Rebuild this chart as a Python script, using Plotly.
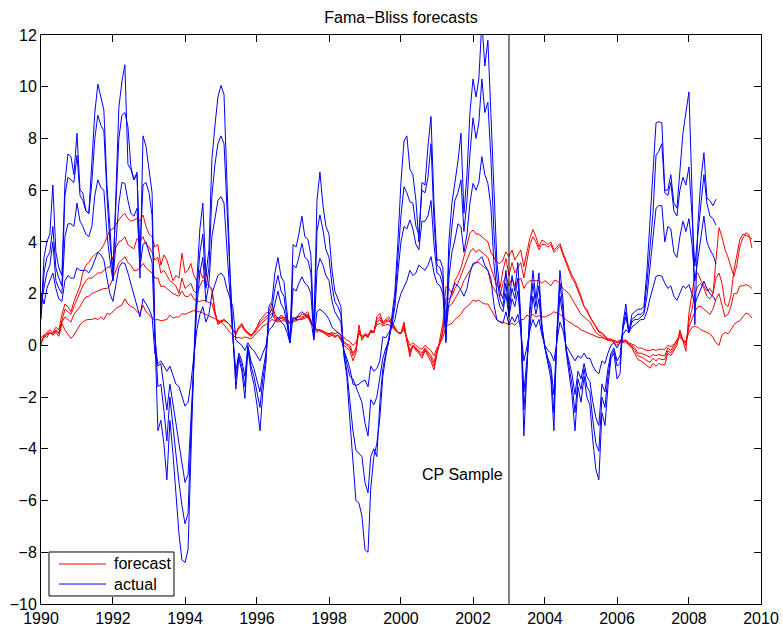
import pandas as pd
import plotly.graph_objects as go

# Monthly excess returns (actual) and Fama-Bliss forecasts, 2- to 5-year bonds.
actual_start = "1990-01-01"
forecast_start = "1990-01-01"

actual_2y = [
    2.0, 1.6, 2.2, 2.5, 2.8, 2.2, 1.8, 1.7, 2.5, 2.7, 2.6, 2.6,
    3.0, 2.9, 2.9, 2.9, 2.8, 3.0, 3.3, 3.6, 3.5, 3.3, 2.6, 2.0,
    1.7, 2.4, 3.0, 3.2, 3.17, 2.8, 2.4, 2.0, 1.6, 1.1, 1.8, 1.6,
    1.4, 1.1, -0.3, -0.7, -0.6, -0.8, -1.0, -0.8, -1.2, -1.5, -1.6, -2.0,
    -2.35, -2.2, -1.5, -0.4, 0.6, 1.2, 1.5, 0.9, 1.2, 2.0, 2.4, 2.7,
    2.8, 2.65, 2.2, 1.8, 1.5, 0.2, 0.1, 0.0, -0.2, 0.1, -0.1, -0.2,
    -0.4, -0.6, -0.3, 0.0, 0.6, 0.7, 0.9, 1.1, 0.9, 0.8, 0.5, 0.1,
    1.1, 1.0, 1.2, 1.3, 1.2, 1.1, 1.0, 0.2, 1.3, 1.4, 1.3, 1.2,
    1.0, 0.7, 0.6, 0.5, 0.4, -0.2, -0.5, -0.9, -1.5, -1.55, -1.5, -1.4,
    -1.34, -1.6, -0.8, -1.0, -0.9, -0.6, 0.33, 0.3, 0.5, 0.7, 1.0, 1.6,
    2.0, 2.27, 2.5, 2.9, 2.7, 2.8, 3.1, 3.0, 2.9, 3.1, 3.43, 2.8,
    2.4, 2.3, 2.0, 0.5, 1.6, 2.1, 2.4, 2.3, 2.14, 1.9, 2.2, 2.8,
    3.17, 3.2, 3.3, 3.43, 3.1, 2.9, 2.6, 1.6, 0.98, 0.9, 0.85, 1.3,
    0.8, 1.1, 0.9, 1.2, 0.6, -0.6, -0.1, 0.6, 1.0, 0.7, 1.0, 0.4,
    0.0, -0.2, -0.3, -0.6, 0.2, 0.9, 0.6, 0.0, -0.2, -0.4, -0.6, -0.4,
    -0.5, -0.3, -0.5, -0.5, -0.8, -1.0, -1.1, -0.6, -0.7, -0.3, 0.0, 0.1,
    -0.1, 0.1, 0.4, 0.6, 0.5, 0.7, 0.8, 0.9, 1.0, 1.0, 1.3, 1.8,
    2.2, 2.67, 2.7, 2.68, 2.4, 2.2, 2.3, 1.9, 1.74, 2.0, 2.3, 2.2,
    2.35, 2.0, 1.6, 1.9, 2.2, 2.48, 2.2, 2.0, 1.9, 1.7,
]

actual_3y = [
    1.6, 2.2, 2.8, 3.1, 4.0, 2.5, 2.2, 2.0, 4.2, 4.7, 4.7, 4.6,
    5.5, 4.8, 4.6, 4.3, 4.2, 4.6, 5.8, 6.4, 6.1, 6.0, 4.3, 3.3,
    2.5, 4.0, 5.5, 6.3, 6.26, 5.6, 5.1, 5.0, 5.3, 3.0, 3.9, 4.0,
    3.6, 3.2, 0.3, -0.8, -0.7, -1.6, -2.5, -1.5, -2.2, -3.0, -3.8, -4.6,
    -5.3, -5.0, -2.8, -0.3, 1.5, 2.8, 3.4, 1.7, 2.4, 4.2, 5.0, 5.6,
    5.75, 5.5, 3.8, 1.8, 0.3, -1.0, -0.3, -0.6, -1.2, 0.0, -0.6, -0.9,
    -1.3, -1.8, -1.0, -0.3, 1.0, 1.1, 1.6, 2.1, 1.6, 1.4, 0.8, 0.1,
    2.2, 2.1, 2.4, 2.65, 2.4, 2.3, 2.0, 0.3, 2.9, 3.36, 3.1, 2.7,
    2.5, 1.7, 1.3, 1.1, 0.9, -0.2, -0.7, -1.2, -1.3, -1.6, -1.9, -2.2,
    -3.0, -3.5, -2.1, -2.3, -2.0, -1.3, -0.5, -0.1, 0.2, 0.8, 1.5, 2.8,
    4.0, 4.6, 4.5, 4.85, 4.5, 3.9, 3.7, 4.8, 4.8, 5.0, 5.6, 3.9,
    2.8, 2.7, 2.3, 0.3, 2.6, 3.6, 4.07, 4.7, 4.6, 3.6, 4.3, 5.5,
    6.26, 6.0, 6.3, 7.3, 6.6, 6.26, 5.4, 3.17, 2.0, 1.5, 1.3, 2.0,
    1.1, 1.8, 1.5, 2.1, 0.8, -1.8, -0.6, 0.9, 1.9, 1.2, 1.8, 0.6,
    -0.1, -0.5, -0.8, -1.9, 0.3, 1.9, 1.1, -0.1, -0.6, -1.1, -1.9, -1.0,
    -1.3, -0.7, -1.2, -1.4, -2.2, -2.8, -3.1, -1.5, -1.8, -0.9, -0.3, -0.1,
    -0.6, -0.4, 0.6, 1.1, 0.5, 0.9, 1.0, 1.0, 1.1, 1.2, 1.9, 3.0,
    4.0, 5.3, 5.4, 5.4, 4.0, 4.6, 4.5, 3.6, 3.4, 4.2, 4.8, 4.4,
    4.9, 3.9, 2.5, 3.4, 4.3, 5.0, 4.0, 3.7, 3.5, 3.15,
]

actual_4y = [
    1.0, 2.8, 3.4, 3.6, 4.6, 3.0, 2.6, 2.3, 5.8, 6.5, 6.4, 6.3,
    7.35, 5.8, 5.6, 5.2, 5.1, 6.3, 8.0, 8.9, 8.5, 8.3, 5.8, 4.0,
    2.9, 5.5, 8.0, 8.9, 9.0, 8.45, 6.9, 6.4, 6.6, 3.6, 6.2, 6.3,
    5.9, 5.0, 0.6, -1.6, -1.5, -2.5, -3.7, -2.0, -3.0, -4.2, -5.3, -6.2,
    -6.9, -6.5, -3.5, -0.4, 2.0, 3.6, 4.3, 2.2, 3.0, 5.8, 7.0, 7.8,
    8.1, 7.8, 5.3, 2.4, 0.4, -1.3, -0.4, -0.8, -1.6, -0.1, -0.8, -1.2,
    -1.8, -2.4, -1.3, -0.5, 1.2, 1.4, 2.2, 2.7, 2.1, 1.9, 1.0, 0.1,
    3.1, 3.0, 3.4, 3.94, 3.4, 3.3, 2.8, 0.4, 4.4, 5.04, 4.46, 3.7,
    3.4, 2.3, 1.7, 1.5, 1.2, -0.3, -1.0, -2.1, -3.3, -4.05, -4.2, -4.3,
    -5.3, -5.7, -4.3, -4.0, -4.3, -2.2, -0.9, -0.3, 0.2, 0.9, 1.8, 3.4,
    5.0, 6.13, 5.9, 5.55, 5.5, 4.6, 4.3, 6.0, 5.9, 6.5, 7.8, 4.8,
    3.1, 3.0, 2.6, 0.2, 3.3, 4.6, 5.6, 5.9, 6.4, 4.4, 5.6, 7.4,
    8.8, 8.0, 8.6, 10.3, 9.0, 9.4, 7.3, 4.4, 2.6, 1.8, 1.5, 2.4,
    1.3, 2.2, 1.8, 2.6, 0.9, -2.5, -0.9, 1.2, 2.4, 1.5, 2.3, 0.7,
    -0.1, -0.6, -1.0, -2.6, 0.4, 2.4, 1.4, -0.1, -0.8, -1.5, -2.6, -1.3,
    -1.7, -0.9, -1.6, -1.8, -2.9, -3.8, -4.1, -2.0, -2.4, -1.2, -0.4, -0.2,
    -0.8, -0.7, 0.7, 1.3, 0.5, 1.0, 1.1, 1.2, 1.2, 1.3, 2.4, 3.8,
    5.1, 7.35, 7.5, 7.8, 5.9, 5.8, 6.3, 5.2, 5.0, 6.0, 6.5, 6.2,
    6.9, 5.0, 3.06, 4.3, 5.5, 6.6, 5.5, 5.0, 4.9, 4.65,
]

actual_5y = [
    1.2, 3.4, 4.0, 4.3, 6.2, 3.6, 3.0, 2.7, 6.3, 7.4, 7.3, 6.6,
    8.2, 6.0, 5.9, 5.2, 5.1, 7.0, 9.0, 10.1, 9.6, 9.1, 6.2, 4.6,
    2.5, 6.0, 9.2, 10.2, 10.85, 7.0, 6.8, 6.4, 6.7, 2.6, 8.1, 7.7,
    6.8, 5.9, 0.5, -3.3, -2.9, -3.8, -5.2, -2.9, -4.2, -5.9, -7.3, -8.3,
    -8.4, -7.9, -4.0, -0.5, 2.5, 4.5, 5.5, 2.7, 3.7, 7.2, 8.5, 9.6,
    10.05, 9.7, 6.5, 3.0, 0.5, -1.7, -0.5, -1.0, -2.05, -0.1, -1.0, -1.5,
    -2.3, -3.3, -1.8, -0.7, 1.5, 1.7, 2.8, 3.4, 2.65, 2.46, 1.3, 0.1,
    3.9, 3.8, 4.3, 5.0, 4.2, 4.1, 3.5, 0.5, 5.6, 6.7, 5.4, 4.6,
    4.3, 2.9, 2.1, 1.8, 1.5, -0.4, -1.2, -2.9, -4.3, -6.0, -6.1, -6.6,
    -7.9, -8.0, -5.5, -4.3, -3.8, -2.8, -1.2, -0.4, 0.2, 1.1, 2.1, 4.0,
    6.3, 7.9, 8.1, 6.8, 6.6, 5.6, 4.0, 6.3, 6.2, 7.7, 8.85, 5.5,
    3.3, 3.3, 3.0, 0.1, 4.0, 5.5, 6.2, 7.1, 8.2, 5.1, 6.6, 9.0,
    10.3, 9.6, 10.3, 12.5, 10.8, 11.8, 9.0, 5.7, 3.2, 2.1, 1.8, 2.9,
    1.6, 2.7, 2.1, 3.2, 1.0, -3.5, -1.3, 1.5, 2.9, 1.8, 2.8, 0.8,
    -0.1, -0.8, -1.3, -3.3, 0.5, 2.9, 1.8, -0.2, -1.0, -1.9, -3.3, -1.6,
    -2.2, -1.2, -2.0, -2.3, -3.7, -4.8, -5.2, -2.6, -3.1, -1.6, -0.5, -0.3,
    -1.3, -1.1, 0.8, 1.6, 0.5, 1.2, 1.3, 1.4, 1.4, 1.5, 2.9, 4.7,
    6.4, 8.6, 8.65, 8.6, 6.0, 6.0, 6.6, 5.5, 5.3, 6.9, 8.2, 9.0,
    9.8, 6.0, 0.8, 4.7, 6.4, 7.45, 5.7, 5.6, 5.4, 5.65,
]

forecast_2y = [
    0.3, 0.4, 0.3, 0.5, 0.4, 0.5, 0.35, 0.84, 0.59, 0.45, 0.27, 0.4,
    0.6, 0.8, 0.9, 0.98, 1.0, 1.0, 1.05, 1.0, 1.1, 1.0, 1.23, 1.2,
    1.3, 1.43, 1.5, 1.56, 1.8, 1.6, 1.5, 1.45, 1.3, 1.24, 1.55, 1.3,
    1.2, 1.04, 0.98, 1.0, 0.95, 0.97, 1.0, 1.17, 1.05, 1.1, 1.1, 1.23,
    1.2, 1.25, 1.29, 1.35, 1.3, 1.3, 1.25, 1.2, 1.15, 1.1, 1.05, 0.98,
    0.9, 0.8, 0.66, 0.5, 0.4, 0.3, 0.3, 0.27, 0.33, 0.3, 0.25, 0.35,
    0.5, 0.6, 0.75, 0.8, 0.9, 1.0, 0.95, 0.9, 0.95, 0.95, 0.9, 0.85,
    0.9, 0.95, 1.0, 1.0, 1.05, 1.1, 0.85, 0.7, 0.6, 0.6, 0.55, 0.5,
    0.45, 0.5, 0.45, 0.5, 0.4, 0.3, 0.2, 0.15, 0.0, 0.1, 0.45, 0.35,
    0.45, 0.4, 0.55, 0.55, 0.8, 0.85, 0.75, 0.8, 0.8, 0.7, 0.6, 0.5,
    0.5, 0.6, 0.3, 0.0, 0.1, 0.0, -0.1, -0.15, 0.0, -0.1, -0.2, -0.4,
    -0.1, 0.1, 0.3, 0.7, 0.8, 0.85, 1.0, 1.1, 1.2, 1.4, 1.5, 1.6,
    1.75, 1.7, 1.75, 1.65, 1.6, 1.6, 1.4, 1.2, 0.98, 0.9, 0.9, 0.85,
    0.8, 0.85, 0.79, 0.9, 1.0, 1.0, 1.17, 1.1, 1.2, 1.1, 1.15, 1.1,
    1.1, 1.15, 1.2, 1.3, 1.25, 1.2, 1.1, 1.0, 0.9, 0.85, 0.75, 0.7,
    0.6, 0.55, 0.5, 0.45, 0.4, 0.35, 0.3, 0.3, 0.25, 0.2, 0.2, 0.2,
    0.15, 0.2, 0.2, 0.2, 0.1, 0.05, 0.0, -0.1, -0.1, -0.15, -0.2, -0.2,
    -0.15, -0.2, -0.15, -0.15, -0.15, 0.0, -0.05, 0.05, 0.2, 0.3, 0.2, 0.15,
    0.5, 0.7, 0.74, 0.7, 0.6, 0.54, 0.5, 0.45, 0.3, 0.1, 0.0, 0.4,
    0.5, 0.45, 0.6, 0.8, 0.9, 0.95, 1.1, 1.25, 1.2, 1.06,
]

forecast_3y = [
    0.2, 0.3, 0.4, 0.5, 0.4, 0.55, 0.45, 0.9, 1.1, 1.0, 0.9, 1.2,
    1.35, 1.5, 1.7, 1.87, 1.9, 2.0, 2.05, 2.1, 2.13, 2.2, 2.2, 2.3,
    2.6, 2.9, 3.2, 3.3, 3.43, 3.2, 3.1, 2.9, 2.9, 3.0, 3.17, 3.0,
    2.9, 2.8, 2.6, 2.6, 2.27, 2.3, 2.2, 2.1, 2.0, 1.95, 1.9, 2.1,
    1.9, 1.88, 2.0, 1.8, 1.7, 1.7, 1.75, 1.7, 1.65, 1.62, 1.2, 0.9,
    0.95, 1.0, 0.9, 0.8, 0.6, 0.5, 0.65, 0.75, 0.55, 0.45, 0.35, 0.45,
    0.6, 0.8, 0.9, 1.0, 1.1, 1.25, 1.0, 0.95, 1.05, 1.0, 0.95, 0.85,
    0.95, 1.0, 1.0, 1.05, 1.1, 1.15, 0.85, 0.7, 0.6, 0.55, 0.5, 0.45,
    0.4, 0.45, 0.35, 0.4, 0.3, 0.15, 0.05, 0.0, -0.3, -0.1, 0.5, 0.3,
    0.4, 0.35, 0.5, 0.5, 0.9, 1.0, 0.8, 0.9, 0.95, 0.8, 0.6, 0.5,
    0.45, 0.7, 0.2, -0.2, 0.0, -0.1, -0.2, -0.3, -0.1, -0.25, -0.4, -0.65,
    -0.2, 0.1, 0.5, 1.4, 1.5, 1.6, 1.8, 2.0, 2.2, 2.5, 2.7, 2.9,
    3.1, 3.2, 3.2, 3.1, 3.0, 2.9, 2.4, 2.2, 2.0, 1.9, 2.4, 2.7,
    2.3, 2.6, 2.3, 2.5, 2.6, 2.2, 2.4, 2.5, 2.5, 2.5, 2.5, 2.4,
    2.5, 2.4, 2.3, 2.5, 2.5, 2.4, 2.2, 2.1, 2.0, 1.8, 1.6, 1.4,
    1.2, 1.1, 1.0, 0.9, 0.7, 0.5, 0.4, 0.35, 0.25, 0.2, 0.2, 0.15,
    0.1, 0.15, 0.15, 0.2, 0.05, 0.0, -0.1, -0.3, -0.3, -0.35, -0.4, -0.45,
    -0.35, -0.4, -0.35, -0.4, -0.4, -0.1, -0.2, 0.0, 0.15, 0.4, 0.2, 0.1,
    0.7, 1.0, 1.3, 1.5, 1.5, 1.4, 1.3, 1.2, 1.4, 1.8, 2.0, 1.6,
    1.1, 1.2, 1.5, 2.0, 2.0, 2.3, 2.3, 2.35, 2.3, 2.2,
]

forecast_4y = [
    0.1, 0.35, 0.45, 0.5, 0.45, 0.6, 0.5, 1.0, 1.4, 1.3, 1.2, 1.5,
    1.8, 2.1, 2.3, 2.5, 2.6, 2.6, 2.7, 2.8, 2.8, 2.9, 3.0, 3.03,
    3.4, 3.8, 4.0, 4.06, 4.2, 3.9, 3.8, 3.74, 4.13, 4.0, 4.2, 3.9,
    3.8, 3.6, 3.3, 3.4, 2.8, 2.9, 2.7, 2.5, 2.4, 2.3, 2.0, 2.6,
    2.2, 2.3, 2.4, 2.1, 2.0, 2.3, 2.52, 2.4, 2.3, 2.14, 1.3, 0.85,
    0.9, 0.95, 0.9, 0.8, 0.6, 0.5, 0.7, 0.8, 0.6, 0.5, 0.4, 0.5,
    0.7, 0.9, 1.0, 1.1, 1.2, 1.4, 1.1, 1.0, 1.1, 1.05, 1.0, 0.9,
    1.0, 1.05, 1.1, 1.1, 1.15, 1.2, 0.9, 0.75, 0.6, 0.6, 0.55, 0.45,
    0.4, 0.45, 0.35, 0.4, 0.25, 0.1, 0.0, -0.1, -0.4, -0.2, 0.6, 0.3,
    0.4, 0.35, 0.55, 0.5, 1.0, 1.1, 0.85, 0.95, 1.0, 0.85, 0.65, 0.5,
    0.45, 0.8, 0.2, -0.3, 0.0, -0.15, -0.25, -0.4, -0.15, -0.3, -0.5, -0.8,
    -0.25, 0.1, 0.6, 1.8, 1.8, 1.9, 2.2, 2.4, 2.7, 3.0, 3.3, 3.6,
    3.75, 3.6, 3.7, 3.6, 3.5, 3.4, 3.0, 2.6, 2.3, 2.2, 2.9, 3.36,
    2.7, 3.2, 2.8, 3.0, 3.2, 2.6, 3.3, 3.9, 4.2, 4.0, 3.7, 3.9,
    3.9, 3.8, 3.9, 3.6, 3.7, 3.85, 3.5, 3.2, 2.9, 2.6, 2.4, 2.1,
    1.8, 1.5, 1.3, 1.1, 0.9, 0.7, 0.55, 0.5, 0.35, 0.25, 0.25, 0.15,
    0.1, 0.15, 0.15, 0.2, 0.05, -0.05, -0.2, -0.4, -0.45, -0.5, -0.6, -0.65,
    -0.5, -0.6, -0.5, -0.55, -0.55, -0.2, -0.3, -0.1, 0.1, 0.5, 0.2, 0.0,
    0.9, 1.4, 2.0, 2.3, 2.4, 2.2, 1.9, 1.8, 2.0, 2.6, 2.8, 2.4,
    1.6, 1.5, 1.9, 2.9, 3.5, 4.1, 4.3, 4.25, 4.2, 4.1,
]

forecast_5y = [
    0.0, 0.4, 0.5, 0.6, 0.5, 0.7, 0.6, 1.2, 1.6, 1.5, 1.3, 1.7,
    2.0, 2.3, 2.8, 3.1, 3.2, 3.4, 3.5, 3.6, 3.7, 3.9, 4.2, 4.45,
    4.5, 4.7, 4.85, 5.0, 5.1, 4.9, 4.8, 4.85, 4.9, 4.8, 5.04, 4.6,
    4.3, 4.2, 3.8, 3.9, 3.1, 3.5, 3.3, 2.9, 2.5, 2.7, 2.6, 3.56,
    2.8, 2.9, 3.17, 2.7, 2.5, 2.9, 2.6, 2.8, 2.3, 2.2, 1.3, 0.8,
    0.9, 1.0, 0.9, 0.8, 0.6, 0.4, 0.7, 0.85, 0.6, 0.5, 0.35, 0.5,
    0.7, 0.98, 1.1, 1.24, 1.3, 1.62, 1.2, 1.0, 1.17, 1.1, 1.0, 0.9,
    1.0, 1.1, 1.1, 1.2, 1.2, 1.3, 0.9, 0.72, 0.5, 0.6, 0.5, 0.4,
    0.33, 0.4, 0.3, 0.4, 0.2, 0.0, -0.1, -0.2, -0.6, -0.3, 0.79, 0.2,
    0.4, 0.3, 0.6, 0.5, 1.1, 1.24, 0.9, 1.0, 1.1, 0.9, 0.7, 0.5,
    0.46, 0.9, 0.2, -0.44, 0.0, -0.2, -0.3, -0.5, -0.2, -0.4, -0.63, -0.95,
    -0.3, 0.2, 0.85, 2.27, 2.2, 2.0, 2.5, 2.7, 3.0, 3.43, 3.9, 4.33,
    4.46, 4.3, 4.3, 4.2, 4.1, 4.0, 3.6, 3.4, 3.2, 3.17, 3.3, 3.62,
    3.43, 3.69, 3.3, 3.5, 3.69, 3.04, 3.6, 4.14, 4.48, 4.2, 3.81, 4.07,
    4.0, 3.9, 4.0, 3.69, 3.8, 3.94, 3.6, 3.3, 3.0, 2.7, 2.5, 2.2,
    1.9, 1.5, 1.4, 1.1, 0.9, 0.72, 0.5, 0.45, 0.3, 0.2, 0.2, 0.1,
    0.0, 0.1, 0.1, 0.15, 0.0, -0.1, -0.3, -0.55, -0.6, -0.7, -0.8, -0.88,
    -0.7, -0.8, -0.7, -0.75, -0.75, -0.3, -0.4, -0.2, 0.0, 0.6, 0.2, -0.23,
    1.25, 2.0, 2.7, 2.8, 2.5, 2.3, 2.1, 2.2, 2.0, 3.3, 4.55, 4.2,
    3.7, 3.4, 3.06, 2.67, 3.1, 3.83, 4.15, 4.35, 4.28, 3.77,
]

cp_sample_end = "2003-01-01"
year_ticks = [1990, 1992, 1994, 1996, 1998, 2000, 2002, 2004, 2006, 2008, 2010]
value_ticks = [-10, -8, -6, -4, -2, 0, 2, 4, 6, 8, 10, 12]
legend_labels = ["forecast", "actual"]

FONT = "Liberation Sans, Arial, Helvetica, sans-serif"
RED = "#ff0000"
BLUE = "#0000ff"

fig = go.Figure()

forecasts = [forecast_2y, forecast_3y, forecast_4y, forecast_5y]
actuals = [actual_2y, actual_3y, actual_4y, actual_5y]

for series in forecasts:
    dates = pd.date_range(forecast_start, periods=len(series), freq="MS")
    fig.add_trace(go.Scatter(
        x=dates, y=series, mode="lines",
        line=dict(color=RED, width=1),
        name=legend_labels[0], showlegend=False,
    ))

for series in actuals:
    dates = pd.date_range(actual_start, periods=len(series), freq="MS")
    fig.add_trace(go.Scatter(
        x=dates, y=series, mode="lines",
        line=dict(color=BLUE, width=1),
        name=legend_labels[1], showlegend=False,
    ))

# End of the Cochrane-Piazzesi sample
fig.add_shape(type="line", xref="x", yref="paper",
              x0=cp_sample_end, x1=cp_sample_end, y0=0, y1=1,
              line=dict(color="black", width=1))
fig.add_annotation(x=cp_sample_end, y=-5, xref="x", yref="y",
                   text="CP Sample", showarrow=False,
                   xanchor="right", yanchor="middle", xshift=-4,
                   font=dict(family=FONT, size=16, color="black"))

# Boxed legend in the lower-left corner of the axes
fig.add_shape(type="rect", xref="paper", yref="paper",
              x0=0.0111, x1=0.1847, y0=0.0141, y1=0.0914,
              line=dict(color="black", width=1), fillcolor="white",
              layer="above")
for label, color, ypos in [(legend_labels[0], RED, 0.0703),
                           (legend_labels[1], BLUE, 0.0351)]:
    fig.add_shape(type="line", xref="paper", yref="paper",
                  x0=0.025, x1=0.0903, y0=ypos, y1=ypos,
                  line=dict(color=color, width=1), layer="above")
    fig.add_annotation(x=0.0986, y=ypos, xref="paper", yref="paper",
                       text=label, showarrow=False,
                       xanchor="left", yanchor="middle",
                       font=dict(family=FONT, size=16, color="black"))

axis_common = dict(
    showline=True, linecolor="black", linewidth=1, mirror="ticks",
    ticks="inside", ticklen=7, tickwidth=1, tickcolor="black",
    showgrid=False, zeroline=False,
    tickfont=dict(family=FONT, size=16, color="black"),
)

fig.update_xaxes(
    type="date",
    range=["1990-01-01", "2010-01-01"],
    tickvals=[f"{y}-01-01" for y in year_ticks],
    ticktext=[str(y) for y in year_ticks],
    **axis_common,
)
fig.update_yaxes(
    range=[-10, 12],
    tickvals=value_ticks,
    ticktext=[str(v).replace("-", "\u2212") for v in value_ticks],
    **axis_common,
)

fig.update_layout(
    width=783, height=629,
    margin=dict(l=41, r=22, t=35, b=25, autoexpand=False),
    paper_bgcolor="white", plot_bgcolor="white",
    title=dict(text="Fama\u2212Bliss forecasts", x=0.5121, xanchor="center",
               y=0.972, yanchor="middle", yref="container",
               font=dict(family=FONT, size=16, color="black")),
    showlegend=False,
)

fig.write_html("out.html")
